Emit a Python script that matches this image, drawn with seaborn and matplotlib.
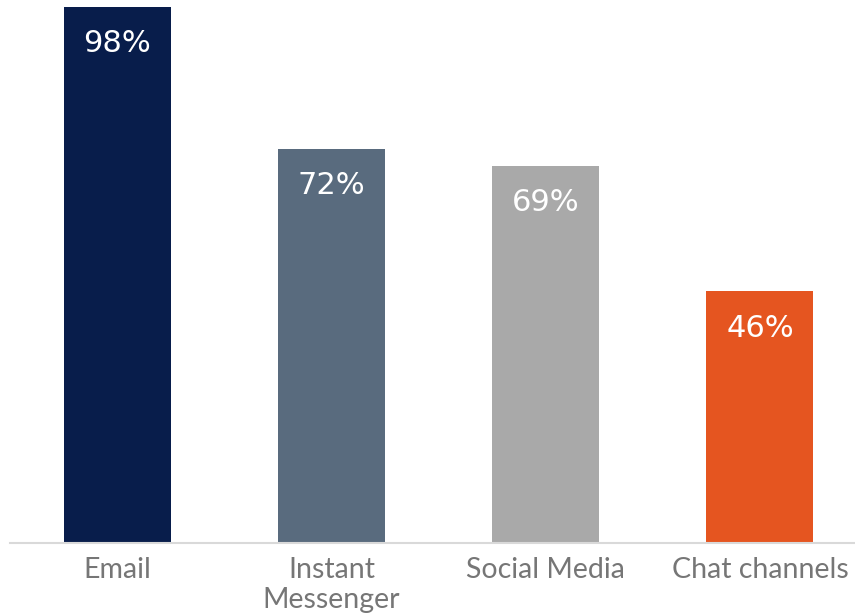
import matplotlib
matplotlib.use("Agg")
import matplotlib.pyplot as plt
import seaborn as sns
import pandas as pd

# Share of respondents using each channel
channels = ["Email", "Instant\nMessenger", "Social Media", "Chat channels"]
shares = [98, 72, 69, 46]
colors = ["#081d4b", "#596b7e", "#a9a9a9", "#e55520"]

df = pd.DataFrame({"channel": channels, "share": shares})

sns.set_theme(style="white")
plt.rcParams["font.family"] = ["DejaVu Sans"]

fig = plt.figure(figsize=(8.55, 6.14), dpi=100)
ax = fig.add_axes([10 / 855, 71 / 614, 857 / 855, 547 / 614])

sns.barplot(data=df, x="channel", y="share", hue="channel",
            palette=colors, width=0.5, legend=False, ax=ax,
            saturation=1, linewidth=0)

ax.set_ylim(0, 100)
ax.set_xlim(-0.5, 3.5)

# Value labels just inside the top of each bar
for i, v in enumerate(shares):
    ax.annotate(f"{v}%", xy=(i, v), xytext=(0, -16), textcoords="offset points",
                ha="center", va="top", color="white", fontsize=22,
                family="DejaVu Sans")

for s in ["left", "top", "right"]:
    ax.spines[s].set_visible(False)
ax.spines["bottom"].set_color("#d9d9d9")
ax.spines["bottom"].set_linewidth(1.5)

ax.set_yticks([])
ax.set_xlabel("")
ax.set_ylabel("")
ax.tick_params(axis="x", length=0, pad=10)
for lbl in ax.get_xticklabels():
    lbl.set_fontfamily("Lato")
    lbl.set_fontsize(20.5)
    lbl.set_color("#767676")
    lbl.set_linespacing(1.2)

fig.savefig("out.png", dpi=100)
